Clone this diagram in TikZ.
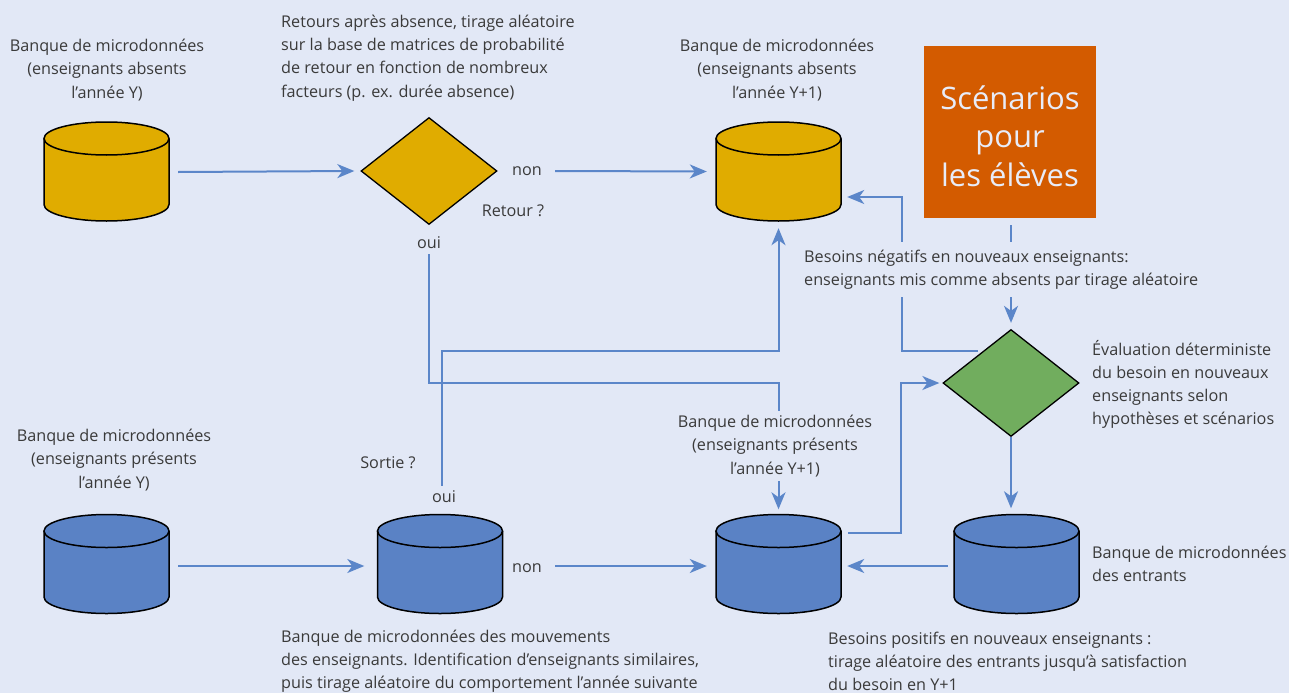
\documentclass[tikz,border=0pt]{standalone}
\usepackage{fontspec}
\setmainfont{Open Sans}
\usetikzlibrary{arrows.meta,shapes.geometric,calc}
\definecolor{bgc}{HTML}{E2E8F6}
\definecolor{ylw}{HTML}{E0AC00}
\definecolor{blu}{HTML}{5A82C5}
\definecolor{grn}{HTML}{71AD5E}
\definecolor{org}{HTML}{D35B00}
\definecolor{arrc}{HTML}{5B86C9}
\definecolor{txtc}{HTML}{3A3A3A}
\definecolor{otxt}{HTML}{E8ECF8}
\newcommand\drawcyl[2]{%
  \path (#1) coordinate (cc);
  \fill[#2] ($(cc)+(-62.5,-33)$) -- ($(cc)+(-62.5,33)$)
     arc[start angle=180,end angle=0,x radius=62.5,y radius=16.5]
     -- ($(cc)+(62.5,-33)$)
     arc[start angle=0,end angle=-180,x radius=62.5,y radius=16.5] -- cycle;
  \draw[line width=1.5pt,black] ($(cc)+(-62.5,-33)$) -- ($(cc)+(-62.5,33)$)
     arc[start angle=180,end angle=0,x radius=62.5,y radius=16.5]
     -- ($(cc)+(62.5,-33)$);
  \draw[line width=1.5pt,black] ($(cc)+(0,-33)$) ellipse[x radius=62.5,y radius=16.5];
}
\tikzset{
  cylbox/.style={rectangle,draw=none,minimum width=125pt,minimum height=99pt,inner sep=0pt},
  dia/.style={diamond,draw=black,line width=1.3pt,minimum width=136pt,minimum height=107pt,inner sep=0pt},
  arr/.style={draw=arrc,line width=2pt,-{Stealth[length=17pt,width=14pt,inset=5pt]}},
  lbl/.style={font=\fontsize{16.2}{23.2}\selectfont,text=txtc,inner sep=3pt},
  lblc/.style={lbl,align=center},
  lbll/.style={lbl,align=left,anchor=west},
  cover/.style={fill=bgc},
}
\begin{document}
\begin{tikzpicture}[x=1pt,y=-1pt]
\fill[bgc] (0,0) rectangle (1289,693);
\useasboundingbox (0,0) rectangle (1289,693);

% cylinders (named boxes + drawings)
\node[cylbox] (Y1) at (106.5,171.5) {};
\node[cylbox] (Y2) at (778.5,171.5) {};
\node[cylbox] (B1) at (106.5,564) {};
\node[cylbox] (B2) at (440,564) {};
\node[cylbox] (B3) at (778.5,564) {};
\node[cylbox] (B4) at (1016.5,564) {};
\drawcyl{Y1}{ylw}
\drawcyl{Y2}{ylw}
\drawcyl{B1}{blu}
\drawcyl{B2}{blu}
\drawcyl{B3}{blu}
\drawcyl{B4}{blu}

% diamonds
\node[dia,fill=ylw] (D1) at (429,171) {};
\node[dia,fill=grn] (D2) at (1011,383) {};

% scenario box
\node[rectangle,fill=org,minimum width=172pt,minimum height=172pt,inner sep=0pt] (S) at (1010,132) {};
\node[text=otxt,align=center,font=\fontsize{31}{38.5}\selectfont,inner sep=0pt] (Stxt) at (1010,136)
      {Scénarios\\pour\\les élèves};

% small labels
\node[lbl] (non1) at (527,171) {non};
\node[lbl] (ret) at (513,211) {Retour ?};
\node[lbl,inner sep=5pt] (oui1) at (429,243) {oui};
\node[lbl] (sortie) at (388,463) {Sortie ?};
\node[lbl,inner sep=5pt] (oui2) at (444,497) {oui};
\node[lbl] (non2) at (527,568) {non};

% connectors
\draw[arr] ($(Y1.east)+(9,0.5)$) -- ($(D1.west)+(-6,0)$);
\draw[arr] ($(non1.east)+(10,0)$) -- ($(Y2.west)+(-9,0)$);
\draw[arr] ($(B1.east)+(9,2)$) -- ($(B2.west)+(-13,2)$);
\draw[arr] ($(non2.east)+(10,-2)$) -- ($(B3.west)+(-9,2)$);
\draw[arr] (oui1.south) |- ($(B3.north)+(0,-131)$) -- ($(B3.north)+(0,-5)$);
\draw[arr] ($(oui2.north)+(-2,0)$) |- ($(Y2.south)+(0,130)$) -- ($(Y2.south)+(0,7)$);
\draw[arr] ($(D2.north|-S.south)+(0,7)$) -- ($(D2.north)+(0,-6)$);
\draw[arr] ($(D2.west)!0.6!(D2.north)+(-6,0)$) -| ($(Y2.east)+(61,25.5)$) -- ($(Y2.east)+(6,25.5)$);
\draw[arr] ($(B3.east)+(7,-31)$) -| ($(D2.west)+(-41,0)$) -- ($(D2.west)+(-3,0)$);
\draw[arr] (D2.south) -- ($(D2.south|-B4.north)+(0,-6)$);
\draw[arr] ($(B4.west)+(-6,2)$) -- ($(B3.east)+(6,2)$);

% text blocks
\node[lblc] (t1) at (107,70) {Banque de microdonnées\\(enseignants absents\\l’année Y)};
\node[lbll] (t2) at (278,58) {Retours après absence, tirage aléatoire\\sur la base de matrices de probabilité\\de retour en fonction de nombreux\\facteurs (p. ex. durée absence)};
\node[lblc] (t3) at (777,70) {Banque de microdonnées\\(enseignants absents\\l’année Y+1)};
\node[lbll,cover,inner ysep=8pt] (t4) at (801,269.5) {Besoins négatifs en nouveaux enseignants:\\enseignants mis comme absents par tirage aléatoire};
\node[lbll] (t5) at (1089,384.5) {Évaluation déterministe\\du besoin en nouveaux\\enseignants selon\\hypothèses et scénarios};
\node[lblc] (t6) at (114,460) {Banque de microdonnées\\(enseignants présents\\l’année Y)};
\node[lblc,cover,inner ysep=4pt] (t9) at (775,446) {Banque de microdonnées\\(enseignants présents\\l’année Y+1)};
\node[lbll] (t10) at (1089,563.5) {Banque de microdonnées\\des entrants};
\node[lbll] (t11) at (278,661.5) {Banque de microdonnées des mouvements\\des enseignants. Identification d’enseignants similaires,\\puis tirage aléatoire du comportement l’année suivante};
\node[lbll] (t12) at (825,661.5) {Besoins positifs en nouveaux enseignants :\\tirage aléatoire des entrants jusqu’à satisfaction\\du besoin en Y+1};
\end{tikzpicture}
\end{document}
